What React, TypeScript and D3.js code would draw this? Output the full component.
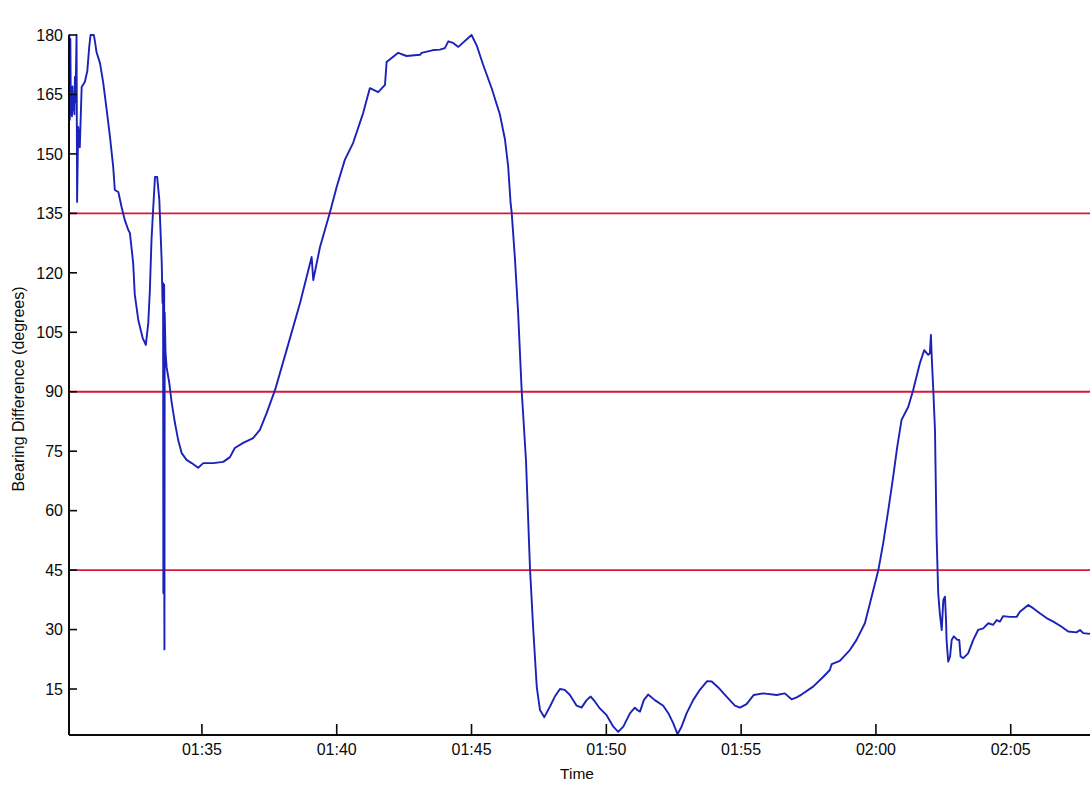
import React from 'react';
import * as d3 from 'd3';

// Minutes after 01:30:00
const minutesAfter0130: number[] = [
  0.07, 0.08, 0.10, 0.12, 0.14, 0.16, 0.18, 0.20, 0.22, 0.25,
  0.27, 0.29, 0.31, 0.35, 0.37, 0.41, 0.47, 0.54, 0.66, 0.75,
  0.82, 0.87, 0.99, 1.03, 1.09, 1.22, 1.34, 1.47, 1.59, 1.71,
  1.77, 1.90, 2.02, 2.14, 2.27, 2.33, 2.45, 2.51, 2.64, 2.80,
  2.92, 3.01, 3.07, 3.13, 3.19, 3.26, 3.34, 3.42, 3.51, 3.54,
  3.56, 3.57, 3.58, 3.59, 3.60, 3.605, 3.61, 3.62, 3.65, 3.69,
  3.79, 3.88, 4.00, 4.12, 4.25, 4.43, 4.62, 4.86, 5.05, 5.42,
  5.79, 6.04, 6.22, 6.53, 6.90, 7.15, 7.40, 7.71, 8.14, 8.64,
  9.07, 9.13, 9.38, 9.75, 10.00, 10.30, 10.61, 10.98, 11.23, 11.54,
  11.79, 11.85, 12.28, 12.59, 13.09, 13.15, 13.58, 13.83, 14.01, 14.14,
  14.32, 14.51, 15.00, 15.19, 15.43, 15.75, 16.05, 16.24, 16.36, 16.45,
  16.49, 16.61, 16.73, 16.86, 17.02, 17.17, 17.29, 17.42, 17.54, 17.70,
  17.91, 18.09, 18.28, 18.46, 18.65, 18.90, 19.08, 19.27, 19.42, 19.58,
  19.76, 20.01, 20.26, 20.44, 20.63, 20.88, 21.06, 21.15, 21.25, 21.39,
  21.55, 21.80, 22.11, 22.30, 22.48, 22.64, 22.79, 22.98, 23.22, 23.47,
  23.74, 23.91, 24.15, 24.46, 24.77, 24.96, 25.20, 25.47, 25.82, 26.32,
  26.62, 26.87, 27.06, 27.24, 27.67, 28.05, 28.29, 28.36, 28.66, 29.04,
  29.28, 29.59, 29.84, 30.09, 30.27, 30.46, 30.64, 30.79, 30.95, 31.20,
  31.38, 31.63, 31.79, 31.94, 32.00, 32.04, 32.07, 32.13, 32.19, 32.25,
  32.31, 32.37, 32.44, 32.50, 32.56, 32.60, 32.62, 32.68, 32.75, 32.81,
  32.89, 33.02, 33.09, 33.14, 33.24, 33.42, 33.61, 33.79, 33.98, 34.17,
  34.35, 34.48, 34.60, 34.72, 34.97, 35.22, 35.34, 35.65, 35.83, 36.08,
  36.33, 36.58, 36.89, 37.13, 37.44, 37.57, 37.69, 37.94,
];

// Bearing difference (degrees)
const bearingDifference: number[] = [
  158, 180, 158.6, 179, 160, 166, 159.5, 167, 161, 165,
  160, 169.4, 163, 180, 137.9, 156.8, 151.7, 166.9, 168.2, 171,
  177, 180, 180, 178.5, 175.7, 172.9, 167.9, 161, 154.3, 146.7,
  140.9, 140.4, 136.6, 133.3, 130.8, 130, 122.5, 114.5, 108.1, 103.6,
  101.8, 107.3, 115.7, 128.3, 135.9, 144.2, 144.2, 138.4, 122.5, 112.4,
  117.4, 39.2, 116.5, 40, 117, 39.5, 25, 110, 100, 96.2,
  92.2, 87.2, 82.1, 77.8, 74.5, 72.8, 72, 70.8, 72, 72,
  72.3, 73.5, 75.8, 77.1, 78.3, 80.4, 84.6, 90.4, 100.5, 112.4,
  124, 118.2, 126.5, 135.3, 141.7, 148.5, 152.8, 160.3, 166.6, 165.6,
  167.4, 173.2, 175.5, 174.7, 175, 175.5, 176.2, 176.3, 176.7, 178.4,
  178, 177, 180, 177.4, 172.5, 166.5, 160, 153.7, 146.8, 137.5,
  135.2, 123.6, 109.7, 90.3, 72.7, 45.2, 30, 15.5, 9.7, 7.9,
  10.6, 13.1, 15, 14.8, 13.5, 10.8, 10.3, 12.2, 13.1, 11.8,
  10.1, 8.4, 5.5, 4.2, 5.5, 8.9, 10.3, 9.7, 9.3, 12.2,
  13.6, 12.2, 10.8, 8.9, 6.4, 3.6, 5.5, 8.9, 12.2, 14.8,
  17, 16.9, 15.4, 13.1, 10.8, 10.3, 11.2, 13.5, 13.9, 13.5,
  13.9, 12.4, 12.9, 13.6, 15.6, 18.1, 19.8, 21.3, 22.1, 24.9,
  27.4, 31.6, 38.3, 45, 51.8, 60.2, 68.6, 76.1, 82.9, 86.2,
  90.4, 97.2, 100.5, 99.3, 99.7, 104.3, 98.8, 90, 80.4, 53.4,
  39.2, 34.1, 29.9, 37.5, 38.3, 32.4, 27.4, 21.9, 23.2, 27.4,
  28.3, 27.4, 27.4, 23.2, 22.8, 24, 27.4, 29.9, 30.3, 31.6,
  31.2, 32.4, 32, 33.4, 33.2, 33.2, 34.5, 36.2, 35.4, 34.1,
  32.9, 32, 30.7, 29.5, 29.3, 29.9, 29.1, 28.9,
];

const thresholdLines: number[] = [45, 90, 135];
const yTickValues: number[] = [15, 30, 45, 60, 75, 90, 105, 120, 135, 150, 165, 180];
const xTickLabels: string[] = ['01:35', '01:40', '01:45', '01:50', '01:55', '02:00', '02:05'];
const yRange: [number, number] = [3.4, 180];
const xRangeMinutes: [number, number] = [0.07, 37.94];

const W = 1092;
const H = 785;
const M = { left: 69, right: 1090, top: 35, bottom: 735 };
const FONT = '"Liberation Sans", Arial, Helvetica, sans-serif';

const base = new Date(2000, 0, 1, 1, 30, 0);
const toDate = (m: number) => new Date(base.getTime() + m * 60000);
const parseHM = d3.timeParse('%H:%M');
const fmt = d3.timeFormat('%H:%M');

export default function App() {
  const x = d3.scaleTime().domain(xRangeMinutes.map(toDate) as [Date, Date]).range([M.left, M.right]);
  const y = d3.scaleLinear().domain(yRange).range([M.bottom, M.top]);

  const pts = minutesAfter0130.map((m, i) => [toDate(m), bearingDifference[i]] as [Date, number]);
  const line = d3.line<[Date, number]>().x((d) => x(d[0])).y((d) => y(d[1]));

  const xTicks = xTickLabels.map((lab) => {
    const t = parseHM(lab)!;
    return new Date(2000, 0, 1, t.getHours(), t.getMinutes(), 0);
  });

  const axisColor = '#0a0a0a';
  return (
    <svg
      width={W}
      height={H}
      style={{ position: 'absolute', left: 0, top: 0, background: '#fff' }}
      fontFamily={FONT}
    >
      <rect x={0} y={0} width={W} height={H} fill="#fff" />
      {thresholdLines.map((v) => (
        <line
          key={v}
          x1={M.left}
          x2={M.right}
          y1={y(v)}
          y2={y(v)}
          stroke="#dc1638"
          strokeWidth={1.8}
        />
      ))}
      <path d={line(pts) || ''} fill="none" stroke="#1a22b8" strokeWidth={1.9} strokeLinejoin="round" />
      <line x1={M.left} x2={M.left} y1={M.top} y2={M.bottom} stroke={axisColor} strokeWidth={2} />
      <line x1={M.left} x2={M.right} y1={M.bottom} y2={M.bottom} stroke={axisColor} strokeWidth={2} />
      {yTickValues.map((v) => (
        <g key={v}>
          <line x1={M.left} x2={M.left + 8} y1={y(v)} y2={y(v)} stroke={axisColor} strokeWidth={1.6} />
          <text x={M.left - 6} y={y(v)} dy="0.36em" textAnchor="end" fontSize={16} fill="#0a0a0a">
            {v}
          </text>
        </g>
      ))}
      {xTicks.map((t) => (
        <g key={t.getTime()}>
          <line x1={x(t)} x2={x(t)} y1={M.bottom} y2={M.bottom - 11} stroke={axisColor} strokeWidth={1.6} />
          <text x={x(t)} y={M.bottom + 20} textAnchor="middle" fontSize={16} fill="#0a0a0a">
            {fmt(t)}
          </text>
        </g>
      ))}
      <text x={577} y={779} textAnchor="middle" fontSize={15.5} fill="#0a0a0a">
        Time
      </text>
      <text
        transform={`translate(24, 389) rotate(-90)`}
        textAnchor="middle"
        fontSize={16}
        fill="#0a0a0a"
      >
        Bearing Difference (degrees)
      </text>
    </svg>
  );
}
